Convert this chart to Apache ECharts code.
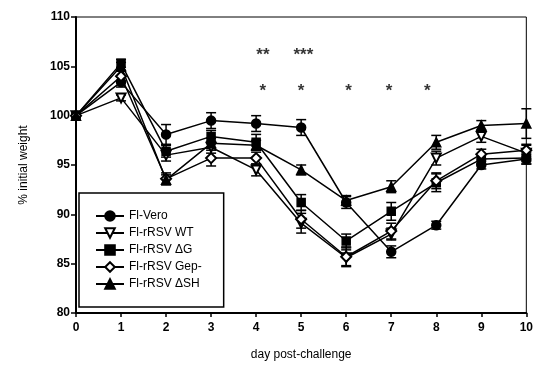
<!DOCTYPE html>
<html>
<head>
<meta charset="utf-8">
<script src="https://cdn.jsdelivr.net/npm/echarts@6/dist/echarts.min.js"></script>
<style>
html,body{margin:0;padding:0;background:#fff;}
#main{width:536px;height:373px;}
</style>
</head>
<body>
<div id="main"></div>
<script>
// days after challenge
var days = [0, 1, 2, 3, 4, 5, 6, 7, 8, 9, 10];

// mean % of initial weight, one array per group
var vero   = [100, 103.4, 98.1, 99.5, 99.2, 98.8, 91.2, 86.2, 88.9, 95.0, 95.6];
var rsvWT  = [100, 101.8, 96.0, 96.8, 94.5, 89.1, 85.6, 88.0, 95.7, 97.9, 96.2];
var rsvDG  = [100, 105.3, 96.4, 97.9, 97.3, 91.2, 87.3, 90.3, 93.2, 95.6, 95.7];
var rsvGep = [100, 104.0, 93.6, 95.7, 95.7, 89.5, 85.7, 88.3, 93.4, 96.1, 96.5];
var rsvDSH = [100, 105.0, 93.5, 97.2, 97.0, 94.5, 91.4, 92.8, 97.3, 99.0, 99.2];

// error bar half widths
var veroErr   = [0, 0.5, 1.0, 0.8, 0.8, 0.8, 0.6, 0.6, 0.4, 0.4, 0.5];
var rsvWTErr  = [0, 0.3, 0.6, 0.6, 0.6, 1.0, 0.8, 0.6, 0.7, 0.6, 0.8];
var rsvDGErr  = [0, 0.4, 0.6, 0.6, 0.8, 0.8, 0.7, 0.9, 0.9, 0.5, 0.6];
var rsvGepErr = [0, 0.5, 0.6, 0.8, 0.6, 0.9, 1.0, 0.8, 0.8, 0.5, 0.6];
var rsvDSHErr = [0, 0.4, 0.5, 0.5, 0.5, 0.5, 0.5, 0.6, 0.7, 0.5, 1.5];

var names = ["Fl-Vero", "Fl-rRSV WT", "Fl-rRSV \u0394G", "Fl-rRSV Gep-", "Fl-rRSV \u0394SH"];

// significance marks
var starX = [4.15, 4.15, 5.05, 5.0, 6.05, 6.95, 7.8];
var starY = [106.4, 102.8, 106.4, 102.8, 102.8, 102.8, 102.8];
var starText = ["**", "*", "***", "*", "*", "*", "*"];

var font = "Liberation Sans";
var Mychart = echarts.init(document.getElementById("main"));

function pairs(ys){
    return days.map(function(d, i){ return [d, ys[i]]; });
}

var groups = [
    {name:names[0], y:vero,   e:veroErr,   symbol:"circle",        size:9, rot:0},
    {name:names[1], y:rsvWT,  e:rsvWTErr,  symbol:"emptyTriangle", size:9, rot:180},
    {name:names[2], y:rsvDG,  e:rsvDGErr,  symbol:"rect",          size:8, rot:0},
    {name:names[3], y:rsvGep, e:rsvGepErr, symbol:"emptyDiamond",  size:10, rot:0},
    {name:names[4], y:rsvDSH, e:rsvDSHErr, symbol:"triangle",      size:9, rot:0}
];

var errData = [];
groups.forEach(function(g){
    days.forEach(function(d, i){
        if (g.e[i] > 0) errData.push([d, g.y[i] - g.e[i], g.y[i] + g.e[i]]);
    });
});

var series = [{
    type:"custom",
    name:"err",
    silent:true,
    z:1,
    renderItem:function(params, api){
        var lo = api.coord([api.value(0), api.value(1)]);
        var hi = api.coord([api.value(0), api.value(2)]);
        var w = 5;
        var st = {stroke:"#000", lineWidth:1.5};
        return {type:"group", children:[
            {type:"line", shape:{x1:lo[0], y1:lo[1], x2:hi[0], y2:hi[1]}, style:st},
            {type:"line", shape:{x1:lo[0]-w, y1:lo[1], x2:lo[0]+w, y2:lo[1]}, style:st},
            {type:"line", shape:{x1:hi[0]-w, y1:hi[1], x2:hi[0]+w, y2:hi[1]}, style:st}
        ]};
    },
    encode:{x:0, y:[1, 2]},
    data:errData
}];

groups.forEach(function(g){
    series.push({
        type:"line",
        name:g.name,
        data:pairs(g.y),
        symbol:g.symbol,
        symbolSize:g.size,
        symbolRotate:g.rot,
        showAllSymbol:true,
        z:3,
        lineStyle:{color:"#000", width:1.5},
        itemStyle:{color:"#000", borderColor:"#000", borderWidth:1.5},
        emphasis:{disabled:true}
    });
});

series.push({
    type:"scatter",
    name:"stars",
    silent:true,
    symbolSize:0,
    data:starX.map(function(x, i){ return [x, starY[i]]; }),
    label:{
        show:true,
        position:"inside",
        offset:[0, 3],
        color:"#000",
        fontFamily:font,
        fontWeight:"bold",
        fontSize:17,
        formatter:function(p){ return starText[p.dataIndex]; }
    }
});

var option = {
    animation:false,
    backgroundColor:"#fff",
    grid:{left:76, right:9, top:17, bottom:60, show:true, borderColor:"#000", borderWidth:1},
    legend:{
        data:names,
        orient:"vertical",
        left:79,
        top:193,
        padding:[17, 22, 17, 16],
        itemGap:5,
        itemWidth:28,
        itemHeight:12,
        borderColor:"#000",
        borderWidth:1.5,
        backgroundColor:"#fff",
        textStyle:{fontFamily:font, fontSize:12, color:"#000"}
    },
    xAxis:{
        type:"value",
        min:0, max:10, interval:1,
        name:"day post-challenge",
        nameLocation:"middle",
        nameGap:36,
        nameTextStyle:{fontFamily:font, fontSize:12, color:"#000"},
        axisLine:{lineStyle:{color:"#000", width:2}},
        axisTick:{show:true, length:4, lineStyle:{color:"#000", width:1.5}},
        axisLabel:{fontFamily:font, fontSize:12, fontWeight:"bold", color:"#000", margin:9},
        splitLine:{show:false}
    },
    yAxis:{
        type:"value",
        min:80, max:110, interval:5,
        name:"% initial weight",
        nameLocation:"middle",
        nameGap:46,
        nameTextStyle:{fontFamily:font, fontSize:12, color:"#000"},
        axisLine:{show:true, lineStyle:{color:"#000", width:2}},
        axisTick:{show:true, length:5, lineStyle:{color:"#000", width:1.5}},
        axisLabel:{fontFamily:font, fontSize:12, fontWeight:"bold", color:"#000", margin:6},
        splitLine:{show:false}
    },
    series:series
};
Mychart.setOption(option);
</script>
</body>
</html>
